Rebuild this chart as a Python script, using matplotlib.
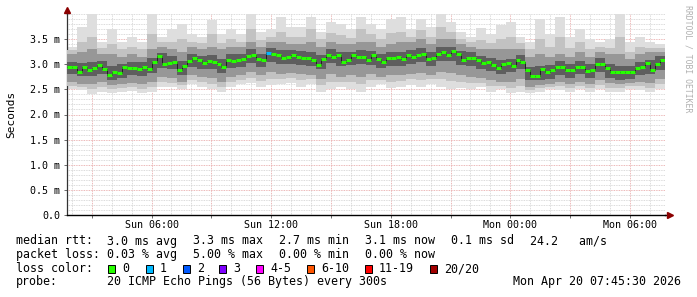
import matplotlib
matplotlib.use('Agg')
import matplotlib.pyplot as plt
import matplotlib.dates as mdates
from matplotlib.ticker import MultipleLocator, FuncFormatter
from matplotlib.patches import Rectangle
import datetime as dt
import numpy as np

# ---------------- data ----------------
start = dt.datetime(2026, 4, 19, 1, 45, 30)
end = dt.datetime(2026, 4, 20, 7, 45, 30)

# median rtt (ms), 15-minute steps
median_ms = [
    2.94, 2.94, 2.85, 2.95, 2.89, 2.92, 2.98, 2.90, 2.78, 2.85,
    2.82, 2.94, 2.92, 2.92, 2.90, 2.94, 2.90, 3.05, 3.17, 3.00,
    3.02, 3.05, 2.88, 2.97, 3.06, 3.12, 3.08, 3.02, 3.06, 3.04,
    3.01, 2.95, 3.08, 3.07, 3.08, 3.10, 3.16, 3.18, 3.10, 3.08,
    3.22, 3.20, 3.18, 3.12, 3.15, 3.18, 3.14, 3.12, 3.13, 3.09,
    2.99, 3.10, 3.19, 3.15, 3.18, 3.04, 3.08, 3.18, 3.15, 3.15,
    3.08, 3.18, 3.10, 3.04, 3.12, 3.12, 3.14, 3.10, 3.18, 3.15,
    3.18, 3.20, 3.10, 3.12, 3.20, 3.25, 3.18, 3.27, 3.20, 3.08,
    3.13, 3.12, 3.08, 3.03, 3.04, 2.99, 2.93, 3.00, 3.02, 2.96,
    3.08, 3.05, 2.88, 2.77, 2.77, 2.90, 2.85, 2.88, 2.94, 2.94,
    2.88, 2.88, 2.95, 2.95, 2.86, 2.89, 3.00, 3.00, 2.92, 2.84,
    2.84, 2.85, 2.85, 2.85, 2.92, 2.95, 3.02, 2.88, 3.00, 3.08,
]
# lost pings (of 20) per median step
median_loss = [0] * 40 + [1] + [0] * 79

# smoke envelopes (ms), 30-minute steps, outermost to innermost
smoke_hi = [
    3.35, 3.75, 4.00, 3.45, 3.70, 3.45, 3.55, 3.45, 4.00, 3.55,
    3.70, 3.80, 3.60, 3.55, 3.88, 3.60, 3.70, 3.60, 4.00, 3.65,
    3.70, 3.95, 3.75, 3.75, 3.95, 3.65, 3.85, 3.80, 3.70, 3.95,
    3.80, 3.70, 3.90, 3.95, 3.70, 3.90, 3.75, 4.00, 3.85, 3.65,
    3.55, 3.72, 3.60, 3.78, 3.85, 3.55, 3.45, 3.90, 3.60, 3.95,
    3.55, 3.70, 3.50, 3.45, 3.50, 4.00, 3.45, 3.55, 3.45, 3.40,
]
smoke_hi1 = [
    3.28, 3.45, 3.55, 3.32, 3.40, 3.30, 3.35, 3.30, 3.60, 3.45,
    3.45, 3.50, 3.45, 3.42, 3.60, 3.42, 3.50, 3.45, 3.70, 3.48,
    3.55, 3.65, 3.55, 3.55, 3.70, 3.50, 3.62, 3.58, 3.52, 3.70,
    3.60, 3.50, 3.62, 3.65, 3.55, 3.68, 3.55, 3.75, 3.65, 3.50,
    3.45, 3.48, 3.42, 3.50, 3.55, 3.42, 3.30, 3.50, 3.35, 3.55,
    3.32, 3.45, 3.30, 3.35, 3.32, 3.55, 3.25, 3.35, 3.32, 3.32,
]
smoke_hi2 = [
    3.20, 3.25, 3.30, 3.20, 3.20, 3.15, 3.20, 3.15, 3.30, 3.35,
    3.30, 3.25, 3.35, 3.30, 3.35, 3.30, 3.35, 3.35, 3.45, 3.35,
    3.45, 3.45, 3.40, 3.40, 3.45, 3.35, 3.45, 3.40, 3.40, 3.45,
    3.45, 3.35, 3.40, 3.45, 3.45, 3.50, 3.40, 3.50, 3.50, 3.40,
    3.35, 3.30, 3.30, 3.30, 3.30, 3.30, 3.15, 3.20, 3.15, 3.20,
    3.15, 3.25, 3.15, 3.25, 3.20, 3.20, 3.10, 3.20, 3.25, 3.25,
]
smoke_hi3 = [
    3.05, 3.02, 3.04, 3.06, 2.96, 3.00, 3.04, 3.04, 3.12, 3.22,
    3.16, 3.06, 3.20, 3.17, 3.18, 3.10, 3.20, 3.20, 3.30, 3.21,
    3.33, 3.28, 3.28, 3.26, 3.24, 3.18, 3.30, 3.24, 3.25, 3.28,
    3.26, 3.20, 3.24, 3.25, 3.28, 3.32, 3.24, 3.35, 3.34, 3.27,
    3.24, 3.17, 3.13, 3.08, 3.11, 3.18, 2.95, 2.96, 2.98, 3.06,
    3.00, 3.07, 3.00, 3.12, 3.01, 2.97, 2.97, 3.05, 3.08, 3.16,
]
smoke_lo3 = [
    2.80, 2.76, 2.76, 2.80, 2.68, 2.73, 2.78, 2.77, 2.82, 2.92,
    2.90, 2.78, 2.94, 2.90, 2.90, 2.83, 2.93, 2.94, 3.02, 2.94,
    3.05, 3.00, 3.00, 2.98, 2.96, 2.90, 3.02, 2.96, 2.98, 3.00,
    2.98, 2.92, 2.97, 2.97, 3.00, 3.04, 2.96, 3.06, 3.06, 2.99,
    2.97, 2.90, 2.86, 2.81, 2.84, 2.90, 2.68, 2.68, 2.71, 2.79,
    2.73, 2.80, 2.72, 2.85, 2.73, 2.69, 2.70, 2.78, 2.80, 2.89,
]
smoke_lo2 = [
    2.65, 2.60, 2.60, 2.65, 2.58, 2.60, 2.62, 2.60, 2.65, 2.75,
    2.72, 2.65, 2.78, 2.75, 2.72, 2.65, 2.75, 2.78, 2.85, 2.78,
    2.85, 2.80, 2.82, 2.80, 2.78, 2.70, 2.80, 2.75, 2.78, 2.75,
    2.80, 2.75, 2.78, 2.78, 2.80, 2.82, 2.78, 2.85, 2.82, 2.78,
    2.75, 2.72, 2.68, 2.65, 2.65, 2.70, 2.55, 2.58, 2.60, 2.65,
    2.60, 2.65, 2.60, 2.68, 2.62, 2.60, 2.62, 2.65, 2.62, 2.70,
]
smoke_lo1 = [
    2.57, 2.54, 2.50, 2.55, 2.50, 2.52, 2.55, 2.50, 2.55, 2.65,
    2.63, 2.58, 2.68, 2.65, 2.60, 2.55, 2.65, 2.68, 2.72, 2.66,
    2.70, 2.70, 2.72, 2.68, 2.70, 2.58, 2.65, 2.65, 2.64, 2.60,
    2.68, 2.68, 2.65, 2.66, 2.70, 2.68, 2.70, 2.70, 2.66, 2.65,
    2.62, 2.63, 2.56, 2.57, 2.53, 2.57, 2.48, 2.52, 2.55, 2.56,
    2.52, 2.57, 2.52, 2.59, 2.53, 2.52, 2.56, 2.56, 2.53, 2.60,
]
smoke_lo = [
    2.50, 2.48, 2.40, 2.45, 2.42, 2.45, 2.47, 2.42, 2.45, 2.55,
    2.55, 2.50, 2.60, 2.55, 2.50, 2.45, 2.55, 2.60, 2.62, 2.55,
    2.58, 2.60, 2.62, 2.55, 2.60, 2.45, 2.50, 2.55, 2.50, 2.45,
    2.55, 2.60, 2.52, 2.55, 2.58, 2.55, 2.60, 2.55, 2.50, 2.52,
    2.50, 2.55, 2.45, 2.50, 2.42, 2.45, 2.42, 2.45, 2.50, 2.48,
    2.45, 2.50, 2.45, 2.50, 2.45, 2.45, 2.50, 2.48, 2.45, 2.50,
]

yticks_ms = [0.0, 0.5, 1.0, 1.5, 2.0, 2.5, 3.0, 3.5]

legend_names = ["0", "1", "2", "3", "4-5", "6-10", "11-19", "20/20"]
legend_colors = ["#26ff00", "#00b8ff", "#0059ff", "#7e00ff", "#ff00ff",
                 "#ff5500", "#ff0000", "#a10000"]
loss_color = {0: "#26ff00", 1: "#00b8ff", 2: "#0059ff", 3: "#7e00ff"}

stats_rtt = ["3.0 ms avg", "3.3 ms max", "2.7 ms min", "3.1 ms now", "0.1 ms sd", "24.2   am/s"]
stats_loss = ["0.03 % avg", "5.00 % max", "0.00 % min", "0.00 % now"]
probe_text = "20 ICMP Echo Pings (56 Bytes) every 300s"
stamp_text = "Mon Apr 20 07:45:30 2026"

# ---------------- figure ----------------
W, H = 697, 297
fig = plt.figure(figsize=(W / 100, H / 100), dpi=100)
fig.patch.set_facecolor("white")
ax = fig.add_axes([67 / W, (H - 215) / H, 598 / W, 201 / H])
ax.set_facecolor("white")

MONO = "DejaVu Sans Mono"

def fx(x):
    return x / W

def fy(y):
    return 1 - y / H

t0 = mdates.date2num(start)
t1 = mdates.date2num(end)
n_med = len(median_ms)
n_smk = len(smoke_hi)
med_edges = t0 + (t1 - t0) * np.arange(n_med + 1) / n_med
smk_edges = t0 + (t1 - t0) * np.arange(n_smk + 1) / n_smk

# smoke
layers = [
    (smoke_hi, smoke_lo, "#dedede"),
    (smoke_hi1, smoke_lo1, "#c2c2c2"),
    (smoke_hi2, smoke_lo2, "#979797"),
    (smoke_hi3, smoke_lo3, "#5e5e5e"),
]
for z, (hi, lo, c) in enumerate(layers):
    ax.stairs(hi, smk_edges, baseline=lo, fill=True, color=c, lw=0, zorder=2 + z)

# median
ax.stairs(median_ms, med_edges, baseline=None, color="#202020", lw=0.7, zorder=7)
cols = [loss_color.get(l, "#ff0000") for l in median_loss]
ax.hlines(median_ms, med_edges[:-1], med_edges[1:], colors=cols, lw=2.2, zorder=8)

ax.set_xlim(t0, t1)
ax.set_ylim(0, 4.0)

# grid
ax.yaxis.set_major_locator(MultipleLocator(0.5))
ax.yaxis.set_minor_locator(MultipleLocator(0.1))
ax.xaxis.set_major_locator(mdates.HourLocator(byhour=range(0, 24, 3)))
ax.xaxis.set_minor_locator(mdates.HourLocator(byhour=range(24)))

def xfmt(x, pos):
    d = mdates.num2date(x)
    return d.strftime("%a %H:%M") if d.hour % 6 == 0 else ""

ax.xaxis.set_major_formatter(FuncFormatter(xfmt))
ax.yaxis.set_major_formatter(FuncFormatter(lambda v, p: "0.0" if abs(v) < 1e-9 else f"{v:.1f} m"))
ax.set_yticks(yticks_ms)

ax.grid(which="minor", color="#cfcfcf", lw=0.6, ls=(0, (1, 1)), zorder=1)
ax.grid(which="major", color="#e6a0a0", lw=0.6, ls=(0, (1, 1)), zorder=1)
ax.set_axisbelow(True)

ax.tick_params(axis="both", which="major", labelsize=7.2, length=2, width=0.6, color="#555555")
ax.tick_params(axis="x", which="major", pad=1.5)
ax.tick_params(axis="y", which="major", pad=3)
ax.tick_params(axis="both", which="minor", length=0)
for lab in ax.get_xticklabels() + ax.get_yticklabels():
    lab.set_fontfamily(MONO)

for s in ["top", "right"]:
    ax.spines[s].set_visible(False)
ax.spines["left"].set_color("#333333")
ax.spines["left"].set_linewidth(0.9)
ax.spines["bottom"].set_color("#000000")
ax.spines["bottom"].set_linewidth(1.0)

# axis arrows
ax.plot([0, 0], [1.0, 1.02], transform=ax.transAxes, color="#333333", lw=0.9, clip_on=False)
ax.plot([1.0, 1.008], [0, 0], transform=ax.transAxes, color="#000000", lw=1.0, clip_on=False)
ax.plot([0], [1.02], transform=ax.transAxes, marker="^", ms=4, color="#8b0000", clip_on=False)
ax.plot([1.008], [0], transform=ax.transAxes, marker=">", ms=4, color="#8b0000", clip_on=False)

# labels
fig.text(fx(11), fy(114), "Seconds", rotation=90, ha="center", va="center",
         fontsize=8, family=MONO)
fig.text(fx(688), fy(5), "RRDTOOL / TOBI OETIKER", rotation=270, ha="center", va="top",
         fontsize=5.9, family=MONO, color="#b0b0b0")

FS = 8.4
ys = [241, 254.5, 268.5, 282]
fig.text(fx(16), fy(ys[0]), "median rtt:", fontsize=FS, family=MONO, va="center")
for k, s in enumerate(stats_rtt):
    fig.text(fx(107.3 + 86 * k - (7 if k == 5 else 0)), fy(ys[0]), s, fontsize=FS, family=MONO, va="center")
fig.text(fx(16), fy(ys[1]), "packet loss:", fontsize=FS, family=MONO, va="center")
for k, s in enumerate(stats_loss):
    fig.text(fx(107.3 + 86 * k), fy(ys[1]), s, fontsize=FS, family=MONO, va="center")
fig.text(fx(16), fy(ys[2]), "loss color:", fontsize=FS, family=MONO, va="center")
box_x = [108, 146, 183, 219, 256, 307, 365, 430]
for bx, name, c in zip(box_x, legend_names, legend_colors):
    fig.patches.append(Rectangle((fx(bx), fy(ys[2] + 4)), 7 / W, 8 / H, transform=fig.transFigure,
                                 facecolor=c, edgecolor="black", lw=0.7))
    fig.text(fx(bx + 14), fy(ys[2]), name, fontsize=FS, family=MONO, va="center")
fig.text(fx(16), fy(ys[3]), "probe:", fontsize=FS, family=MONO, va="center")
fig.text(fx(107.3), fy(ys[3]), probe_text, fontsize=FS, family=MONO, va="center")
fig.text(fx(681), fy(ys[3]), stamp_text, fontsize=FS, family=MONO, va="center", ha="right")

fig.savefig("out.png", dpi=100)
